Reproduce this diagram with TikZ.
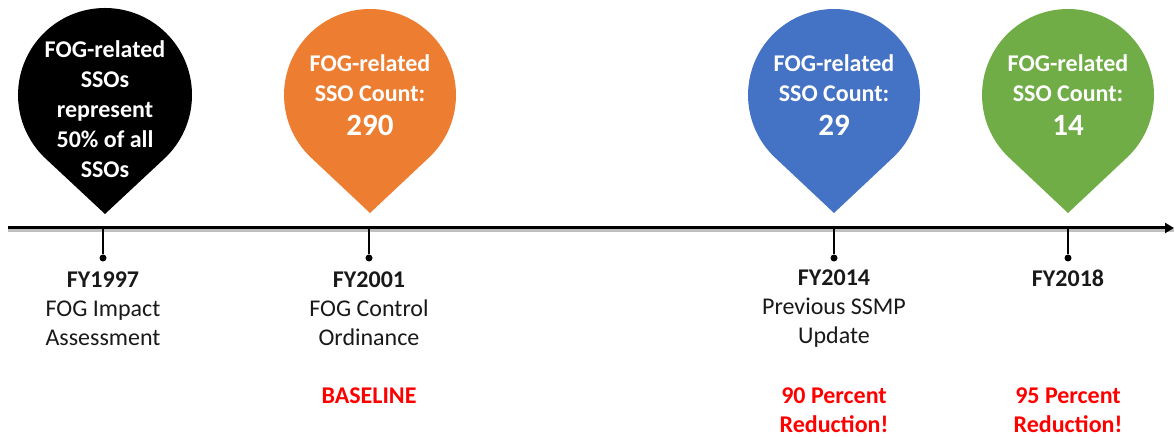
\documentclass[tikz,border=0pt]{standalone}
\usepackage{fontspec}
\setmainfont{Carlito}
\usetikzlibrary{arrows.meta}

\definecolor{pinorange}{HTML}{ED7D31}
\definecolor{pinblue}{HTML}{4472C4}
\definecolor{pingreen}{HTML}{70AD47}
\definecolor{redtext}{HTML}{FF0000}

\tikzset{
    pintext/.style={align=center, text=white, font=\fontsize{24}{30}\selectfont\bfseries},
    yeartext/.style={align=center, text=black!90, font=\fontsize{24}{29}\selectfont},
    gaintext/.style={align=center, text=redtext, font=\fontsize{24}{29}\selectfont\bfseries},
    tickdot/.style={circle, fill=black, inner sep=0pt, minimum size=7pt},
}

\newcommand{\bigcount}[1]{{\fontsize{31}{36}\selectfont #1}}

\begin{document}
\begin{tikzpicture}[x=1pt, y=1pt]
    \useasboundingbox (0,0) rectangle (1174,438);

    % pins
    \fill[black] (105,343) ++(-47.5:87) arc[start angle=-47.5, end angle=227.5, radius=87] -- (105,224) -- cycle;
    \fill[pinorange] (370,343) ++(-47.5:86) arc[start angle=-47.5, end angle=227.5, radius=86] -- (370,225) -- cycle;
    \fill[pinblue] (834,343) ++(-47.5:86) arc[start angle=-47.5, end angle=227.5, radius=86] -- (834,225) -- cycle;
    \fill[pingreen] (1068,343) ++(-47.5:86) arc[start angle=-47.5, end angle=227.5, radius=86] -- (1068,225) -- cycle;

    \node[pintext] (p1997) at (105,329) {FOG-related\\SSOs\\represent\\50\% of all\\SSOs};
    \node[pintext] (p2001) at (370,343) {FOG-related\\SSO Count:\\[4pt]\bigcount{290}};
    \node[pintext] (p2014) at (834,343) {FOG-related\\SSO Count:\\[4pt]\bigcount{29}};
    \node[pintext] (p2018) at (1068,343) {FOG-related\\SSO Count:\\[4pt]\bigcount{14}};

    % time axis
    \coordinate (axisstart) at (8,210);
    \coordinate (axisend) at (1174,210);
    \draw[black!25, line width=3pt] ([yshift=-3pt]axisstart) -- ([yshift=-3pt]axisend);
    \draw[line width=3pt, -{Triangle[length=9pt, width=10pt]}] (axisstart) -- (axisend);

    % ticks
    \foreach \name/\xpos in {1997/103, 2001/369, 2014/834, 2018/1068} {
        \coordinate (a\name) at (\xpos,210);
        \node[tickdot] (d\name) at (\xpos,180) {};
        \draw[line width=1.2pt] (a\name) -- (d\name);
    }

    % labels
    \node[yeartext] (y1997) at (103,129) {\textbf{FY1997}\\FOG Impact\\Assessment};
    \node[yeartext] (y2001) at (369,129) {\textbf{FY2001}\\FOG Control\\Ordinance};
    \node[yeartext] (y2014) at (834,129) {\textbf{FY2014}\\Previous SSMP\\Update};
    \node[yeartext, anchor=north] (y2018) at (1068,172) {\textbf{FY2018}};

    \node[gaintext] (g2001) at (369,42) {BASELINE};
    \node[gaintext] (g2014) at (834,28) {90 Percent\\Reduction!};
    \node[gaintext] (g2018) at (1068,28) {95 Percent\\Reduction!};
\end{tikzpicture}
\end{document}
